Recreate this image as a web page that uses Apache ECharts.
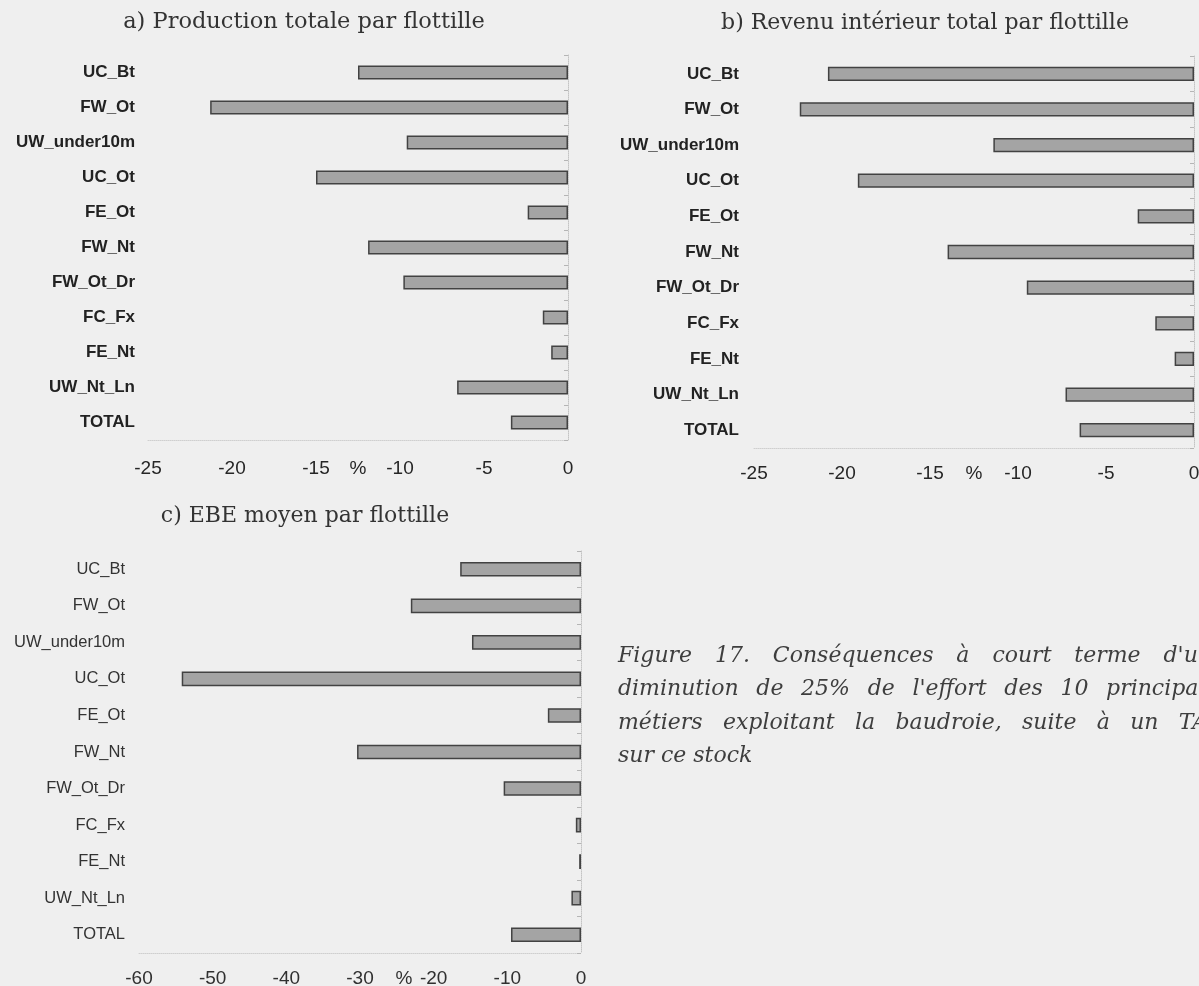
<!DOCTYPE html>
<html>
<head>
<meta charset="utf-8">
<script src="https://cdn.jsdelivr.net/npm/echarts@6/dist/echarts.min.js"></script>
<style>
  html, body { margin: 0; padding: 0; background: #efefef; }
  #chart { width: 1199px; height: 986px; }
</style>
</head>
<body>
<div id="chart"></div>
<script>
// Fleets (métiers), listed top to bottom
const flottilles = ['UC_Bt', 'FW_Ot', 'UW_under10m', 'UC_Ot', 'FE_Ot', 'FW_Nt',
                    'FW_Ot_Dr', 'FC_Fx', 'FE_Nt', 'UW_Nt_Ln', 'TOTAL'];

// a) Production totale par flottille (% change)
const productionTotale = [-12.5, -21.3, -9.6, -15.0, -2.4, -11.9, -9.8, -1.5, -1.0, -6.6, -3.4];

// b) Revenu intérieur total par flottille (% change)
const revenuInterieur = [-20.8, -22.4, -11.4, -19.1, -3.2, -14.0, -9.5, -2.2, -1.1, -7.3, -6.5];

// c) EBE moyen par flottille (% change)
const ebeMoyen = [-16.4, -23.1, -14.8, -54.2, -4.5, -30.4, -10.5, -0.7, -0.25, -1.3, -9.5];

// Value-axis tick labels
const ticksAB = [-25, -20, -15, -10, -5, 0];
const ticksC = [-60, -50, -40, -30, -20, -10, 0];

const panelTitles = [
  'a) Production totale par flottille',
  'b) Revenu intérieur total par flottille',
  'c) EBE moyen par flottille'
];

const captionLines = [
  ['Figure', '17.', 'Conséquences', 'à', 'court', 'terme', "d'une"],
  ['diminution', 'de', '25%', 'de', "l'effort", 'des', '10', 'principaux'],
  ['métiers', 'exploitant', 'la', 'baudroie,', 'suite', 'à', 'un', 'TAC'],
  ['sur', 'ce', 'stock']
];

const chart = echarts.init(document.getElementById('chart'));

const sansFont = 'Liberation Sans, Arial, sans-serif';
const serifFont = 'DejaVu Serif, serif';

// Grid geometry for the three panels
const grids = [
  { left: 148, top: 55, width: 420, height: 385 },
  { left: 754, top: 56, width: 440, height: 392 },
  { left: 139, top: 551, width: 442, height: 402 }
];

function valueAxis(gridIndex, ticks, margin, namePad, labelColor) {
  return {
    type: 'value',
    gridIndex,
    min: ticks[0],
    max: ticks[ticks.length - 1],
    interval: ticks[1] - ticks[0],
    position: 'bottom',
    name: '%',
    nameLocation: 'middle',
    nameGap: margin,
    nameMoveOverlap: false,
    nameTextStyle: {
      fontFamily: sansFont, fontSize: 19, color: labelColor,
      padding: [0, 0, 0, namePad]
    },
    axisLine: { show: true, lineStyle: { color: '#cfcfcf', width: 1, type: 'dotted' } },
    axisTick: { show: false },
    splitLine: { show: false },
    axisLabel: {
      margin,
      fontFamily: sansFont, fontSize: 19, color: labelColor
    }
  };
}

function labelAxis(gridIndex, margin, bold, size, color) {
  return {
    type: 'category',
    gridIndex,
    data: flottilles,
    inverse: true,
    position: 'left',
    axisLine: { show: false, onZero: false },
    axisTick: { show: false },
    axisLabel: {
      margin,
      fontFamily: sansFont,
      fontSize: size,
      fontWeight: bold ? 'bold' : 'normal',
      color
    }
  };
}

function zeroAxis(gridIndex) {
  return {
    type: 'category',
    gridIndex,
    data: flottilles,
    inverse: true,
    position: 'right',
    axisLine: { show: true, onZero: false, lineStyle: { color: '#c4c4c4', width: 1, type: 'dotted' } },
    axisTick: { show: true, length: 4, inside: true, lineStyle: { color: '#b5b5b5' } },
    axisLabel: { show: false }
  };
}

function barSeries(xIdx, yIdx, values) {
  return {
    type: 'bar',
    xAxisIndex: xIdx,
    yAxisIndex: yIdx,
    data: values,
    barWidth: '40%',
    itemStyle: {
      color: '#a4a4a4',
      borderColor: '#424242',
      borderWidth: 1.5
    },
    silent: true,
    animation: false
  };
}

// Titles
const graphics = [];
const titleCenters = [[304, 22], [925, 23], [305, 516]];
const titleSizes = [22.5, 22, 22];
panelTitles.forEach((t, i) => {
  graphics.push({
    type: 'text',
    x: titleCenters[i][0],
    y: titleCenters[i][1],
    style: {
      text: t,
      fontFamily: serifFont,
      fontSize: titleSizes[i],
      fill: '#333',
      textAlign: 'center',
      textVerticalAlign: 'middle',
      verticalAlign: 'middle'
    }
  });
});

// Justified caption block (last line set ragged)
const captionFontSize = 22;
const captionLeft = 618;
const captionRight = 1225;
const captionTop = 656;
const captionLeading = 33.5;
const measureCtx = document.createElement('canvas').getContext('2d');
measureCtx.font = 'italic ' + captionFontSize + 'px "DejaVu Serif"';
const spaceW = measureCtx.measureText(' ').width;
captionLines.forEach((words, li) => {
  const widths = words.map(w => measureCtx.measureText(w).width);
  const isLast = li === captionLines.length - 1;
  const total = widths.reduce((a, b) => a + b, 0);
  const gap = isLast ? spaceW : (captionRight - captionLeft - total) / (words.length - 1);
  let x = captionLeft;
  words.forEach((w, wi) => {
    graphics.push({
      type: 'text',
      x: x,
      y: captionTop + li * captionLeading,
      style: {
        text: w,
        fontFamily: serifFont,
        fontStyle: 'italic',
        fontSize: captionFontSize,
        fill: '#3e3e3e',
        textAlign: 'left',
        textVerticalAlign: 'middle',
        verticalAlign: 'middle'
      }
    });
    x += widths[wi] + gap;
  });
});

chart.setOption({
  backgroundColor: '#efefef',
  animation: false,
  grid: grids.map(g => Object.assign({ containLabel: false, outerBoundsMode: 'none' }, g)),
  xAxis: [
    valueAxis(0, ticksAB, 19, 0, '#262626'),
    valueAxis(1, ticksAB, 16, 0, '#262626'),
    valueAxis(2, ticksC, 16, 88, '#303030')
  ],
  yAxis: [
    labelAxis(0, 13, true, 17, '#222'),
    zeroAxis(0),
    labelAxis(1, 15, true, 17, '#222'),
    zeroAxis(1),
    labelAxis(2, 14, false, 16.5, '#333'),
    zeroAxis(2)
  ],
  series: [
    barSeries(0, 0, productionTotale),
    barSeries(1, 2, revenuInterieur),
    barSeries(2, 4, ebeMoyen)
  ],
  graphic: graphics
});
</script>
</body>
</html>
